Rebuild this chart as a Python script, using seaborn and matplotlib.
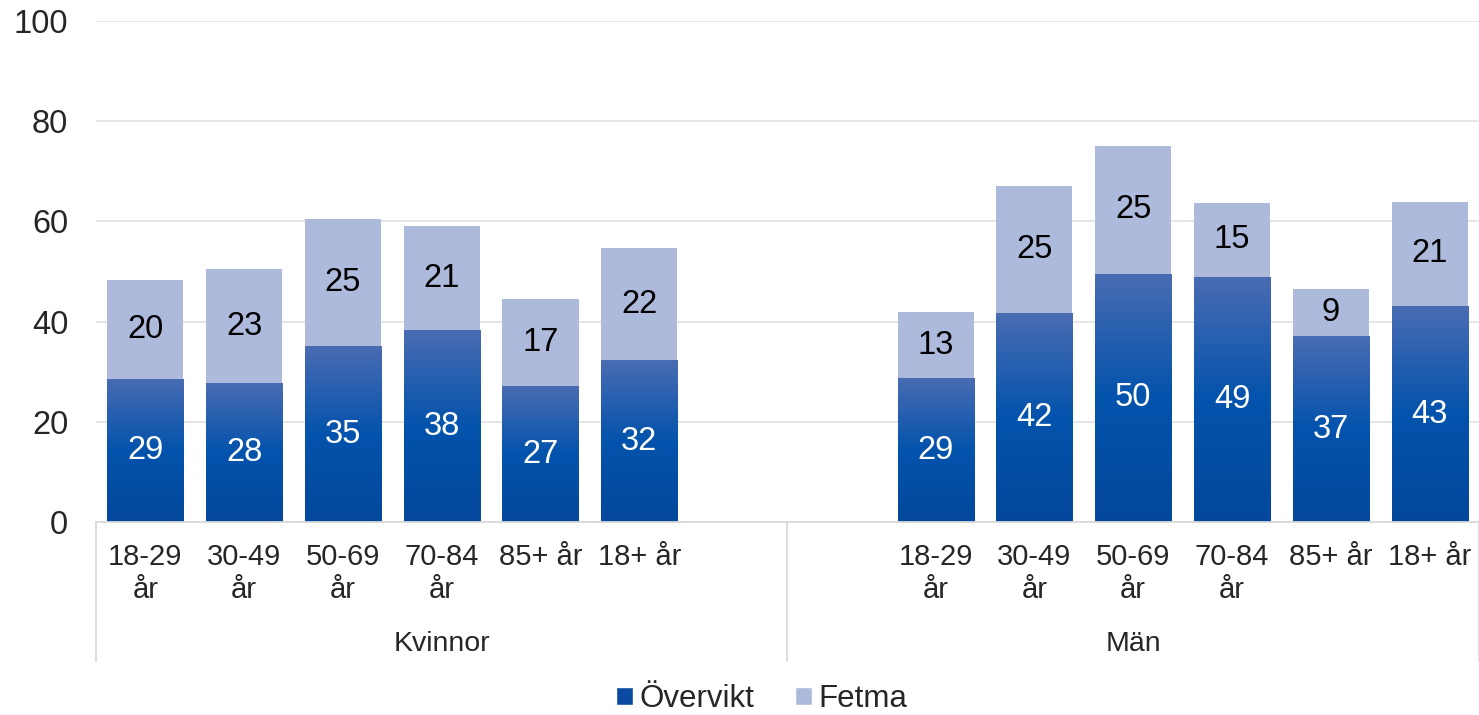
import numpy as np
import pandas as pd
import matplotlib.pyplot as plt
import matplotlib.transforms as mtransforms
import seaborn as sns
from matplotlib.colors import LinearSegmentedColormap
from matplotlib.patches import Patch

# data
age_groups = ["18-29\når", "30-49\når", "50-69\når", "70-84\når", "85+ år", "18+ år"]
sexes = ["Kvinnor", "Män"]
overvikt_kvinnor = [28.6, 27.7, 35.1, 38.3, 27.1, 32.3]
fetma_kvinnor = [19.8, 22.8, 25.4, 20.8, 17.4, 22.4]
overvikt_man = [28.7, 41.7, 49.6, 48.9, 37.1, 43.1]
fetma_man = [13.2, 25.4, 25.4, 14.8, 9.4, 20.8]

fetma_color = "#adbadb"
overvikt_color = "#0a4aa0"
grad_cmap = LinearSegmentedColormap.from_list(
    "ov", [(0.0, "#04489c"), (0.5, "#0353ac"), (1.0, "#4a6cb3")])

rows = []
for sex, ov, fe in [("Kvinnor", overvikt_kvinnor, fetma_kvinnor),
                    ("Män", overvikt_man, fetma_man)]:
    for age, o, f in zip(age_groups, ov, fe):
        rows.append({"key": f"{sex}|{age}", "sex": sex, "age": age,
                     "overvikt": o, "fetma": f, "total": o + f})
df = pd.DataFrame(rows)

# slot order: an empty slot closes Kvinnor and opens Män
order = ([f"Kvinnor|{a}" for a in age_groups] + ["gap_k", "gap_m"]
         + [f"Män|{a}" for a in age_groups])
group_slots = {"Kvinnor": list(range(0, 7)), "Män": list(range(7, 14))}

sns.set_theme(style="white")
plt.rcParams["font.family"] = ["Liberation Sans", "DejaVu Sans"]

fig = plt.figure(figsize=(14.79, 7.15), dpi=100)
ax = fig.add_axes([0.0649, 0.2699, 0.9351, 0.7007])

sns.barplot(data=df, x="key", y="total", order=order, color=fetma_color,
            saturation=1, width=0.77, errorbar=None, linewidth=0, ax=ax)
sns.barplot(data=df, x="key", y="overvikt", order=order, color=overvikt_color,
            saturation=1, width=0.77, errorbar=None, linewidth=0, ax=ax)

tot_bars = ax.containers[0]
ov_bars = ax.containers[1]

# gradient fill on Övervikt bars
grad = np.linspace(0, 1, 256).reshape(-1, 1)
for p in ov_bars:
    x0, w, h = p.get_x(), p.get_width(), p.get_height()
    im = ax.imshow(grad, extent=[x0, x0 + w, 0, h], aspect="auto",
                   cmap=grad_cmap, origin="lower", zorder=p.get_zorder() + 0.1)
    im.set_clip_path(p)

# value labels
for p, (_, r) in zip(ov_bars, df.iterrows()):
    xc = p.get_x() + p.get_width() / 2
    ax.text(xc, r["overvikt"] / 2, f"{r['overvikt']:.0f}", ha="center",
            va="center", color="white", fontsize=23.5, zorder=5)
    ax.text(xc, r["overvikt"] + r["fetma"] / 2, f"{r['fetma']:.0f}",
            ha="center", va="center", color="black", fontsize=23.5, zorder=5)

ax.set_xlim(-0.5, len(order) - 0.5)
ax.set_ylim(0, 100)
ax.set_yticks(range(0, 101, 20))
ax.tick_params(axis="y", length=0, pad=20, labelsize=23.5)

tick_labels = [k.split("|")[1] if "|" in k else "" for k in order]
ax.set_xticks(range(len(order)))
ax.set_xticklabels(tick_labels, fontsize=21, linespacing=1.25)
ax.tick_params(axis="x", length=0, pad=15)
ax.set_xlabel("")
ax.set_ylabel("")

ax.yaxis.grid(True, color="#e3e3e3", linewidth=1.3)
ax.xaxis.grid(False)
ax.set_axisbelow(True)
for s in ["left", "top", "right"]:
    ax.spines[s].set_visible(False)
ax.spines["bottom"].set_color("#d9d9d9")
ax.spines["bottom"].set_linewidth(1.3)

# group labels and separators
trans = mtransforms.blended_transform_factory(ax.transData, ax.transAxes)
for sex in sexes:
    slots = group_slots[sex]
    ax.text(np.mean(slots), -0.244, sex, transform=trans, ha="center",
            va="center", fontsize=20.5)
for xs in [-0.5, 6.5, 13.5]:
    ax.plot([xs, xs], [0, -0.277], transform=trans, color="#d9d9d9",
            linewidth=1.3, clip_on=False)

handles = [Patch(facecolor=overvikt_color, label="Övervikt"),
           Patch(facecolor=fetma_color, label="Fetma")]
fig.legend(handles=handles, loc="lower center", bbox_to_anchor=(0.515, -0.038),
           ncol=2, frameon=False, fontsize=22.5, handlelength=0.55,
           handleheight=0.55, handletextpad=0.2, columnspacing=1.3)

fig.savefig("out.png", dpi=100)
